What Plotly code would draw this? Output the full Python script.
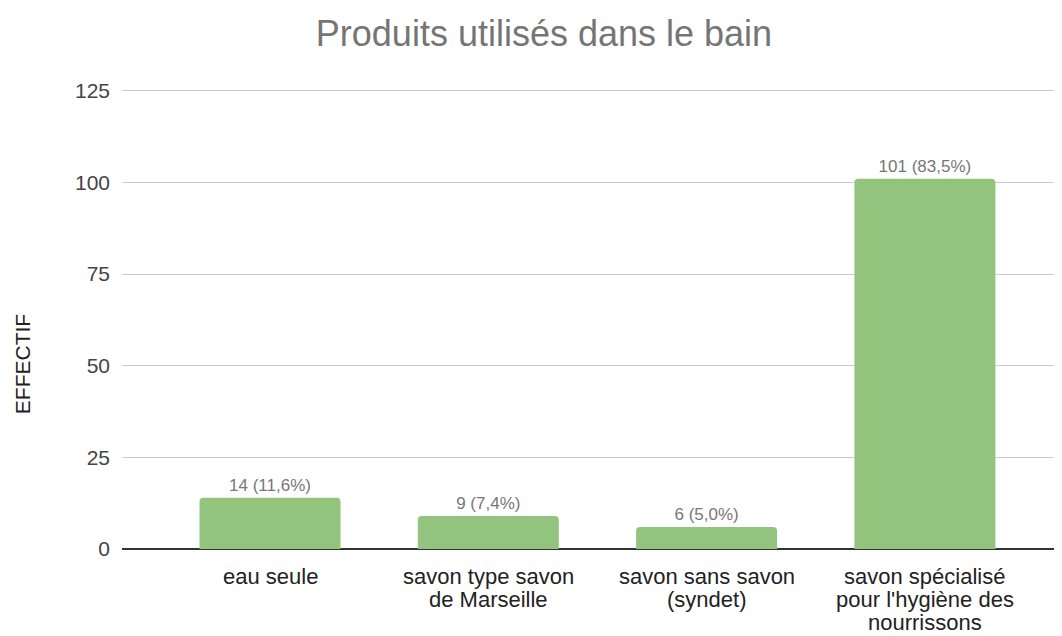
import plotly.graph_objects as go

categories = ["eau seule", "savon type savon<br>de Marseille", "savon sans savon<br>(syndet)",
              "savon spécialisé<br>pour l'hygiène des<br>nourrissons"]
values = [14, 9, 6, 101]
percents = ["11,6%", "7,4%", "5,0%", "83,5%"]
y_ticks = [0, 25, 50, 75, 100, 125]

labels = [f"{v} ({p})" for v, p in zip(values, percents)]

FONT = "Liberation Sans, Arial, sans-serif"

fig = go.Figure(go.Bar(
    x=list(range(len(categories))), y=values,
    marker=dict(color="#93c47d", line=dict(width=0)),
    width=0.646,
    text=labels, textposition="outside",
    textfont=dict(family=FONT, size=17, color="#777777"),
    cliponaxis=False,
))

# category labels, one annotation per line for tighter line spacing
cat_annotations = []
for i, cat in enumerate(categories):
    for j, line in enumerate(cat.split("<br>")):
        cat_annotations.append(dict(
            text=line, x=i, y=0, xref="x", yref="y",
            xanchor="center", yanchor="middle",
            yshift=-(27 + 23 * j), showarrow=False,
            font=dict(family=FONT, size=22, color="#222222"),
        ))

fig.update_layout(
    width=1054, height=628,
    margin=dict(l=114, r=0, t=79, b=87, autoexpand=False),
    paper_bgcolor="white", plot_bgcolor="white",
    barcornerradius=4,
    title=dict(text="Produits utilisés dans le bain", x=0.5085, xanchor="center",
               y=0.960, yanchor="middle",
               font=dict(family=FONT, size=36, color="#757575")),
    font=dict(family=FONT, size=21, color="#444444"),
    showlegend=False,
    xaxis=dict(
        range=[-0.678, 3.628], tickmode="array",
        tickvals=list(range(len(categories))), showticklabels=False,
        showgrid=False, zeroline=False, showline=False, ticks="",
        automargin=False,
    ),
    yaxis=dict(
        range=[0, 126], tickvals=y_ticks,
        showgrid=True, gridcolor="#cccccc", gridwidth=1,
        zeroline=True, zerolinecolor="#333333", zerolinewidth=1.5,
        ticks="", ticklabelstandoff=11, automargin=False,
        tickfont=dict(family=FONT, size=21, color="#444444"),
    ),
    annotations=[dict(
        text="EFFECTIF", textangle=-90, showarrow=False,
        xref="paper", yref="paper", x=-0.1064, y=0.400,
        xanchor="center", yanchor="middle",
        font=dict(family=FONT, size=21, color="#222222"),
    )] + cat_annotations,
)

fig.write_html("out.html")
